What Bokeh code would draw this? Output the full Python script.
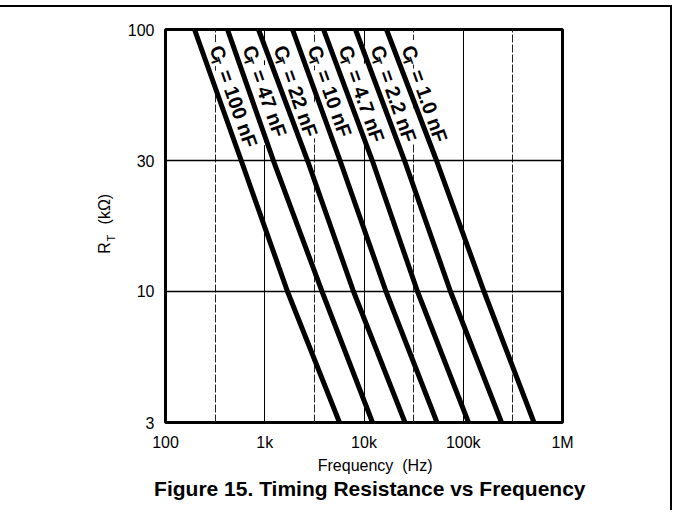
import math
from bokeh.plotting import figure
from bokeh.models import FixedTicker, Title, Range1d, ColumnDataSource, LogAxis
from bokeh.core.properties import value
from bokeh.embed import file_html
from bokeh.resources import INLINE

# ---------------- data ----------------
cap_labels = ["100", "47", "22", "10", "4.7", "2.2", "1.0"]      # C_T in nF
rt_kohm = [100, 31.62, 10, 3.162]                                 # rows 100 / 30 / 10 / 3 of the grid
f_100nF = [196, 579, 1695, 5663]
f_47nF = [421, 1222, 3775, 12180]
f_22nF = [865, 2696, 7840, 25890]
f_10nF = [1904, 5730, 16660, 54380]
f_4p7nF = [3908, 12120, 34600, 112900]
f_2p2nF = [8210, 25590, 74370, 242900]
f_1p0nF = [16850, 53760, 161800, 516100]
series = [f_100nF, f_47nF, f_22nF, f_10nF, f_4p7nF, f_2p2nF, f_1p0nF]

x_ticks = [100, 1000, 10000, 100000, 1000000]
x_tick_labels = ["100", "1k", "10k", "100k", "1M"]
x_minor = [316.2, 3162, 31623, 316228]
y_ticks = [3.162, 10, 31.62, 100]
y_tick_labels = ["3", "10", "30", "100"]

FONT = "Liberation Sans"
NB = "\u00a0"

p = figure(frame_width=397, frame_height=393,
           x_axis_type="log", y_axis_type="log",
           x_range=Range1d(x_ticks[0], x_ticks[-1]),
           y_range=Range1d(y_ticks[0], y_ticks[-1]),
           output_backend="svg", toolbar_location=None,
           min_border_left=165, min_border_right=108,
           min_border_top=22, min_border_bottom=88,
           styles={"border-top": "2px solid black", "border-right": "2px solid black",
                   "margin-top": "5px"})

p.outline_line_color = "black"
p.outline_line_width = 3

p.xaxis.ticker = FixedTicker(ticks=x_ticks, minor_ticks=x_minor)
p.yaxis.ticker = FixedTicker(ticks=y_ticks, minor_ticks=[])
p.xaxis.major_label_overrides = {t: l for t, l in zip(x_ticks, x_tick_labels)}
p.yaxis.major_label_overrides = {t: l for t, l in zip(y_ticks, y_tick_labels)}

for ax in (p.xaxis[0], p.yaxis[0]):
    ax.axis_line_color = None
    ax.major_tick_line_color = None
    ax.minor_tick_line_color = None
    ax.major_tick_out = 0
    ax.major_tick_in = 0
    ax.minor_tick_out = 0
    ax.minor_tick_in = 0
    ax.major_label_text_font = FONT
    ax.major_label_text_font_size = "16px"
    ax.major_label_text_color = "black"
    ax.axis_label_text_font = FONT
    ax.axis_label_text_font_size = "16px"
    ax.axis_label_text_font_style = "normal"
    ax.axis_label_text_color = "black"
p.xaxis.major_label_standoff = 11
p.yaxis.major_label_standoff = 11

p.xaxis.axis_label = NB * 5 + "Frequency" + NB * 2 + "(Hz)"
p.xaxis.axis_label_standoff = 3

# y-axis title R_T (kOhm): subscript "T" on the inner axis, "R (kOhm)" on an outer, tick-less axis
p.yaxis.axis_label = "T" + NB * 8
p.yaxis.axis_label_text_font_size = "11px"
p.yaxis.axis_label_standoff = 8

r_axis = LogAxis(ticker=FixedTicker(ticks=[], minor_ticks=[]),
                 axis_label=NB + "R" + NB * 4 + "(kΩ)",
                 axis_label_text_font=FONT, axis_label_text_font_size="16px",
                 axis_label_text_font_style="normal", axis_label_text_color="black",
                 axis_label_standoff=-11, axis_line_color=None,
                 major_tick_line_color=None, minor_tick_line_color=None,
                 major_tick_out=0, major_tick_in=0, minor_tick_out=0, minor_tick_in=0,
                 major_label_text_font_size="0px", major_label_standoff=0)
p.add_layout(r_axis, "left")

p.xgrid.grid_line_color = "black"
p.xgrid.grid_line_width = 1
p.xgrid.minor_grid_line_color = "#222222"
p.xgrid.minor_grid_line_width = 1
p.xgrid.minor_grid_line_dash = "8 2"
p.ygrid.grid_line_color = "black"
p.ygrid.grid_line_width = 1.3

# curve labels  C_T = ... nF  (drawn first, lines on top; white boxes mask the grid)
ang = math.radians(-70.5)
ux, uy = math.sin(math.radians(19.5)), math.cos(math.radians(19.5))   # reading direction on screen
dx, dy = -uy, ux                                                        # "down" of the glyphs
bx, by = 20.0, 13.0
src = ColumnDataSource(dict(
    x=[s[0] for s in series],
    y=[rt_kohm[0]] * len(series),
    c=["C"] * len(series),
    t=["T"] * len(series),
    rest=["= %s nF" % c for c in cap_labels],
))
common = dict(angle=ang, text_font=value(FONT), text_font_style="bold",
              text_align="left", text_baseline="middle", text_color="black", source=src)
w_c = 14.4
w_ct = w_c + 12.5
p.text(x="x", y="y", text="c", x_offset=bx, y_offset=by, text_font_size="20px",
       background_fill_color="white", padding=4, **common)
p.text(x="x", y="y", text="rest", x_offset=bx + ux * w_ct, y_offset=by + uy * w_ct,
       text_font_size="20px", background_fill_color="white", padding=3, **common)
p.text(x="x", y="y", text="t", x_offset=bx + ux * w_c + dx * 5, y_offset=by + uy * w_c + dy * 5,
       text_font_size="13px", **common)

for f in series:
    p.line(f, rt_kohm, line_width=5, line_color="black")

title = Title(text=NB * 2 + "Figure 15. Timing Resistance vs Frequency", align="center",
              text_font=FONT, text_font_size="21px", text_font_style="bold",
              text_color="black", standoff=-3)
p.add_layout(title, "below")

open("out.html", "w").write(file_html(p, INLINE))
